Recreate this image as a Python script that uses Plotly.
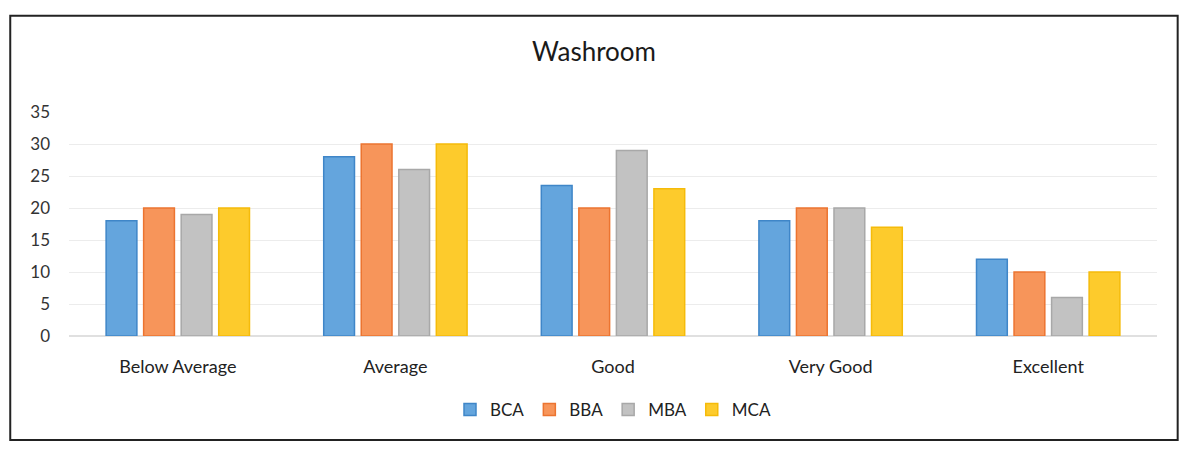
"""Washroom rating chart (grouped bars)."""

import plotly.graph_objects as go

categories = ["Below Average", "Average", "Good", "Very Good", "Excellent"]
bca = [18, 28, 23.5, 18, 12]
bba = [20, 30, 20, 20, 10]
mba = [19, 26, 29, 20, 6]
mca = [20, 30, 23, 17, 10]
y_ticks = [0, 5, 10, 15, 20, 25, 30, 35]

series = [
    ("BCA", bca, "#64a5dd", "#3f86c8"),
    ("BBA", bba, "#f7955a", "#ec7430"),
    ("MBA", mba, "#c2c2c2", "#a8a8a8"),
    ("MCA", mca, "#fdcb2c", "#f5bb0a"),
]

fig = go.Figure()
for name, vals, fill, edge in series:
    fig.add_trace(
        go.Bar(
            x=categories,
            y=vals,
            name=name,
            marker=dict(color=fill, line=dict(color=edge, width=1.5)),
        )
    )

# page body adds an 8px margin, so the figure is a bit smaller than the window
fig.update_layout(
    width=1172,
    height=436,
    margin=dict(l=61, r=23, t=104, b=108, autoexpand=False),
    paper_bgcolor="white",
    plot_bgcolor="white",
    font=dict(family="Lato, Open Sans, sans-serif", color="#333333", size=16),
    title=dict(
        text="Washroom",
        x=0.5,
        xanchor="center",
        y=0.899,
        yanchor="middle",
        font=dict(size=26, color="#1a1a1a"),
    ),
    barmode="group",
    bargap=0.31,
    bargroupgap=0.18,
    showlegend=True,
    legend=dict(
        orientation="h",
        x=0.5,
        xanchor="center",
        y=-0.33,
        yanchor="middle",
        font=dict(size=17, color="#222222"),
        itemwidth=30,
        tracegroupgap=0,
    ),
    xaxis=dict(
        showgrid=False,
        showline=False,
        ticks="",
        automargin=False,
        tickfont=dict(size=18, color="#222222"),
        ticklabelstandoff=18,
    ),
    yaxis=dict(
        range=[0, 35],
        tickvals=y_ticks,
        showgrid=True,
        gridcolor="#ececec",
        gridwidth=1,
        zeroline=True,
        zerolinecolor="#e0e0e0",
        showline=False,
        ticks="",
        automargin=False,
        tickfont=dict(size=17, color="#333333"),
        ticklabelstandoff=18,
    ),
    shapes=[
        dict(
            type="rect",
            xref="paper",
            yref="paper",
            x0=-0.054,
            x1=1.019,
            y0=-0.464,
            y1=1.43,
            line=dict(color="#222222", width=2),
            fillcolor="rgba(0,0,0,0)",
        )
    ],
)

fig.write_html("out.html")
